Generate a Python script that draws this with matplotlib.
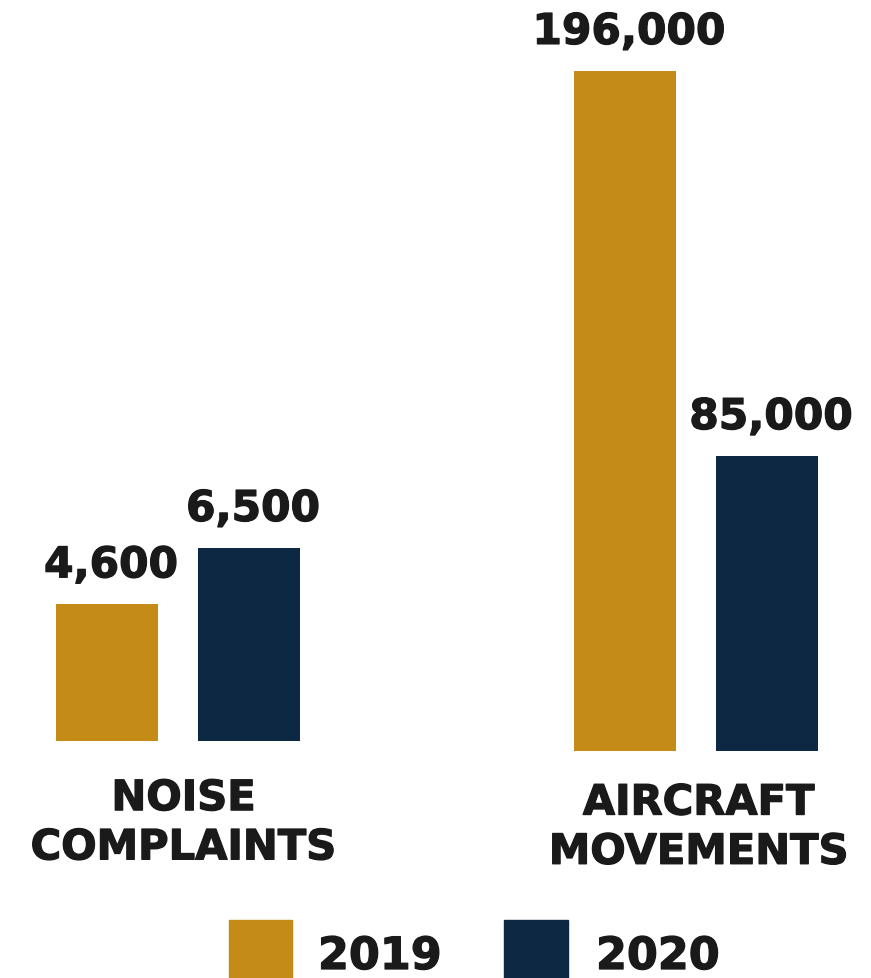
import matplotlib
matplotlib.use("Agg")
import matplotlib.pyplot as plt
from matplotlib.patches import Rectangle
import matplotlib.patheffects as pe

# ---- data ----
categories = ["NOISE\nCOMPLAINTS", "AIRCRAFT\nMOVEMENTS"]
years = ["2019", "2020"]
noise_values = [4600, 6500]
aircraft_values = [196000, 85000]
value_labels_noise = ["4,600", "6,500"]
value_labels_aircraft = ["196,000", "85,000"]

GOLD = "#C58B17"
NAVY = "#0D2843"
TEXT = "#1A1A1A"
colors = [GOLD, NAVY]

W, H = 871, 979
fig = plt.figure(figsize=(W / 100, H / 100), dpi=100)
fig.patch.set_facecolor("white")

def px_axes(left, right, top, bottom):
    return fig.add_axes([left / W, (H - bottom) / H, (right - left) / W, (bottom - top) / H])

FONT = "DejaVu Sans"
heavy = [pe.withStroke(linewidth=0.9, foreground=TEXT)]

def draw_group(ax, values, labels, ymax, xlim, cat_label, cat_x_off, cat_dy):
    bars = ax.bar(range(len(values)), values, width=0.718, color=colors)
    ax.set_ylim(0, ymax)
    ax.set_xlim(*xlim)
    ax.axis("off")
    for b, lab in zip(bars, labels):
        ax.annotate(lab, (b.get_x() + b.get_width() / 2, b.get_height()),
                    xytext=(3, 19.5), textcoords="offset points",
                    ha="center", va="baseline", fontsize=30.5,
                    fontweight="bold", family=FONT, color=TEXT,
                    path_effects=heavy)
    ax.annotate(cat_label, (0.5 + cat_x_off, 0), xytext=(0, cat_dy),
                textcoords="offset points", ha="center", va="top",
                fontsize=30, fontweight="bold", family=FONT, color=TEXT,
                linespacing=1.22, path_effects=heavy)

# noise complaints group: baseline ~742 px, 6500 -> 193 px
ax1 = px_axes(30, 330, 40, 742)
draw_group(ax1, noise_values, value_labels_noise, 6500 * 702 / 193,
           (-(107 - 30) / 142, (330 - 107) / 142), categories[0], 0.04, -26)

# aircraft movements group: baseline ~752 px, 196000 -> 680 px
ax2 = px_axes(545, 850, 40, 752)
draw_group(ax2, aircraft_values, value_labels_aircraft, 196000 * 712 / 680,
           (-(625 - 545) / 142, (850 - 625) / 142), categories[1], 0.02, -22)

# legend
sq = [(229, 292), (504, 568)]
tx = [318, 596]
for (x0, x1), t, c, y in zip(sq, tx, colors, years):
    fig.patches.append(Rectangle((x0 / W, 0), (x1 - x0) / W, (H - 921) / H,
                                 transform=fig.transFigure, color=c))
    fig.text(t / W, (H - 970) / H, y, ha="left", va="baseline",
             fontsize=32, fontweight="bold", family=FONT, color=TEXT,
             path_effects=heavy)

fig.savefig("out.png", dpi=100, facecolor="white")
